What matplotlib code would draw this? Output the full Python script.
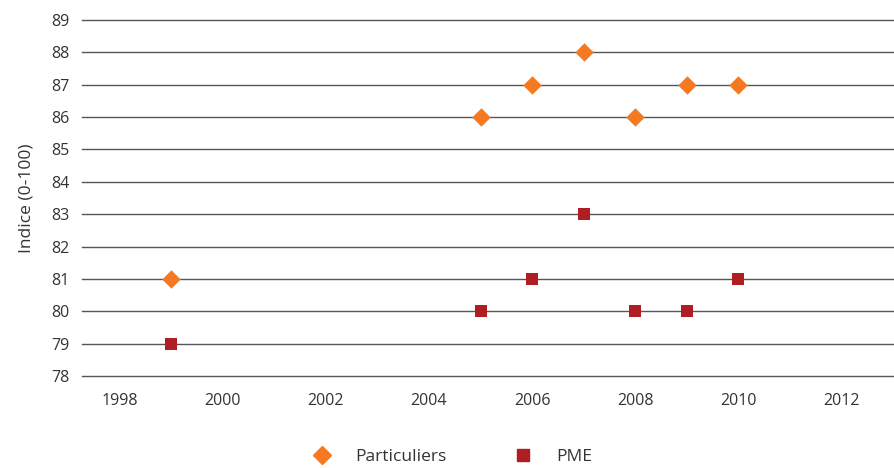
import matplotlib.pyplot as plt
from matplotlib.lines import Line2D

# indices de satisfaction par année
annees_part = [1999, 2005, 2006, 2007, 2008, 2009, 2010]
particuliers = [81, 86, 87, 88, 86, 87, 87]
annees_pme = [1999, 2005, 2006, 2007, 2008, 2009, 2010]
pme = [79, 80, 81, 83, 80, 80, 81]

orange = '#f47920'
rouge = '#b01e23'
texte = '#333333'

plt.rcParams['font.family'] = ['Open Sans', 'DejaVu Sans']

fig = plt.figure(figsize=(8.95, 4.68), dpi=100)
ax = fig.add_axes([82 / 895, 1 - 376 / 468, (893 - 82) / 895, 356 / 468])

ax.scatter(annees_part, particuliers, marker='D', s=88, color=orange, zorder=3, linewidths=0)
ax.scatter(annees_pme, pme, marker='s', s=75, color=rouge, zorder=3, linewidths=0)

ax.set_xlim(1997.27, 2013.0)
ax.set_ylim(78, 89)
ax.set_xticks(range(1998, 2013, 2))
ax.set_yticks(range(78, 90))
ax.yaxis.grid(True, color='#555555', linewidth=1.0)
for ligne in ax.get_ygridlines():
    ligne.set_clip_on(False)
ax.set_axisbelow(True)
for s in ax.spines.values():
    s.set_visible(False)
ax.tick_params(length=0, labelsize=11.5, colors=texte, pad=9)
ax.tick_params(axis='x', pad=12)
ax.set_ylabel('Indice (0-100)', fontsize=12.5, color=texte, labelpad=12)

# légende en bas, centrée
poignees = [
    Line2D([], [], marker='D', linestyle='', color=orange, markersize=9.5),
    Line2D([], [], marker='s', linestyle='', color=rouge, markersize=8.5),
]
fig.legend(poignees, ['Particuliers', 'PME'], loc='center', bbox_to_anchor=(450 / 895, 1 - 457 / 468),
           ncol=2, frameon=False, fontsize=12.5, labelcolor=texte, columnspacing=3.6,
           handletextpad=1.1, handlelength=1.6)

fig.savefig('out.png', dpi=100, facecolor='white')
